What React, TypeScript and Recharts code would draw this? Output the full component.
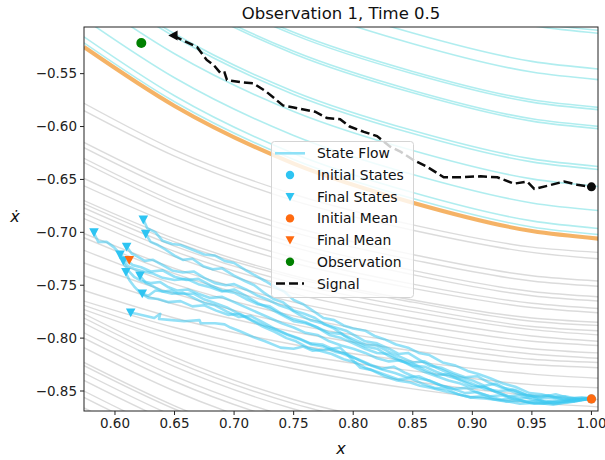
import React from 'react';
import { ComposedChart, Line, Scatter, XAxis, YAxis } from 'recharts';

const xTicks = [0.6, 0.65, 0.7, 0.75, 0.8, 0.85, 0.9, 0.95, 1.0];
const yTicks = [-0.85, -0.8, -0.75, -0.7, -0.65, -0.6, -0.55];

// sample x positions for the background flow curves
const flowX = [0.574, 0.65, 0.75, 0.85, 0.95, 1.006];

const cyanFlow = [
  [-0.3278, -0.3835, -0.438, -0.475, -0.5018, -0.509],
  [-0.3306, -0.3863, -0.4408, -0.4778, -0.5046, -0.5118],
  [-0.3644, -0.4201, -0.4746, -0.5116, -0.5384, -0.5456],
  [-0.3745, -0.4302, -0.4847, -0.5217, -0.5485, -0.5557],
  [-0.4007, -0.4564, -0.5109, -0.5479, -0.5747, -0.5819],
  [-0.4029, -0.4586, -0.5131, -0.5501, -0.5769, -0.5841],
  [-0.4187, -0.4744, -0.5289, -0.5659, -0.5927, -0.5999],
  [-0.4209, -0.4766, -0.5311, -0.5681, -0.5949, -0.6021],
  [-0.4566, -0.5123, -0.5668, -0.6038, -0.6306, -0.6378],
  [-0.4594, -0.5151, -0.5696, -0.6066, -0.6334, -0.6406],
  [-0.4755, -0.5312, -0.5857, -0.6227, -0.6495, -0.6567],
  [-0.4982, -0.5539, -0.6084, -0.6454, -0.6722, -0.6794],
  [-0.5152, -0.5709, -0.6254, -0.6624, -0.6892, -0.6964],
  [-0.5209, -0.5766, -0.6311, -0.6681, -0.6949, -0.7021],
];

const meanFlow = [-0.5248, -0.5805, -0.635, -0.672, -0.6988, -0.706];

const grayFlow = [
  [-0.578, -0.622, -0.664, -0.693, -0.714, -0.719],
  [-0.585, -0.628, -0.67, -0.698, -0.719, -0.725],
  [-0.615, -0.656, -0.695, -0.721, -0.741, -0.746],
  [-0.62, -0.661, -0.7, -0.726, -0.746, -0.751],
  [-0.63, -0.671, -0.71, -0.736, -0.756, -0.761],
  [-0.634, -0.675, -0.714, -0.74, -0.76, -0.765],
  [-0.649, -0.687, -0.724, -0.749, -0.767, -0.772],
  [-0.656, -0.693, -0.729, -0.753, -0.771, -0.776],
  [-0.67, -0.706, -0.741, -0.764, -0.781, -0.785],
  [-0.673, -0.709, -0.743, -0.766, -0.784, -0.788],
  [-0.677, -0.713, -0.748, -0.771, -0.789, -0.793],
  [-0.682, -0.718, -0.752, -0.775, -0.792, -0.797],
  [-0.687, -0.723, -0.758, -0.781, -0.798, -0.803],
  [-0.701, -0.734, -0.766, -0.787, -0.803, -0.807],
  [-0.705, -0.739, -0.771, -0.793, -0.81, -0.814],
  [-0.717, -0.749, -0.779, -0.8, -0.815, -0.819],
  [-0.729, -0.758, -0.787, -0.805, -0.82, -0.823],
  [-0.741, -0.768, -0.794, -0.812, -0.825, -0.828],
  [-0.755, -0.781, -0.806, -0.822, -0.834, -0.838],
  [-0.765, -0.79, -0.815, -0.831, -0.844, -0.847],
  [-0.769, -0.797, -0.823, -0.841, -0.854, -0.858],
  [-0.773, -0.802, -0.829, -0.848, -0.861, -0.865],
  [-0.777, -0.818, -0.858, -0.884, -0.904, -0.91],
  [-0.781, -0.822, -0.862, -0.888, -0.908, -0.913],
  [-0.786, -0.827, -0.867, -0.893, -0.913, -0.918],
  [-0.795, -0.836, -0.876, -0.903, -0.923, -0.928],
  [-0.8, -0.841, -0.881, -0.908, -0.928, -0.933],
  [-0.809, -0.85, -0.89, -0.917, -0.937, -0.942],
  [-0.823, -0.864, -0.905, -0.931, -0.951, -0.956],
  [-0.826, -0.867, -0.907, -0.934, -0.954, -0.959],
  [-0.833, -0.874, -0.914, -0.941, -0.961, -0.966],
  [-0.84, -0.881, -0.921, -0.948, -0.968, -0.973],
  [-0.85, -0.891, -0.931, -0.958, -0.978, -0.983],
  [-0.856, -0.897, -0.937, -0.964, -0.984, -0.989],
  [-0.866, -0.907, -0.947, -0.974, -0.994, -0.999],
];

const trajectories: number[][][] = [
  [[0.624,-0.688],[0.627,-0.696],[0.634,-0.7],[0.64,-0.708],[0.648,-0.711],[0.655,-0.712],[0.664,-0.716],[0.675,-0.721],[0.684,-0.722],[0.692,-0.727],[0.7,-0.729],[0.71,-0.736],[0.718,-0.741],[0.726,-0.746],[0.735,-0.752],[0.742,-0.756],[0.75,-0.764],[0.758,-0.768],[0.766,-0.774],[0.775,-0.781],[0.784,-0.783],[0.792,-0.788],[0.8,-0.791],[0.81,-0.793],[0.818,-0.798],[0.826,-0.801],[0.836,-0.806],[0.846,-0.809],[0.855,-0.814],[0.864,-0.816],[0.875,-0.823],[0.886,-0.826],[0.896,-0.831],[0.905,-0.834],[0.915,-0.838],[0.926,-0.843],[0.936,-0.846],[0.948,-0.852],[0.958,-0.853],[0.968,-0.856],[0.978,-0.855],[0.99,-0.858],[1.0,-0.857]],
  [[0.626,-0.702],[0.63,-0.709],[0.636,-0.712],[0.642,-0.716],[0.65,-0.722],[0.657,-0.726],[0.665,-0.725],[0.674,-0.732],[0.682,-0.735],[0.69,-0.734],[0.7,-0.741],[0.709,-0.746],[0.717,-0.75],[0.725,-0.757],[0.733,-0.763],[0.741,-0.766],[0.75,-0.774],[0.759,-0.777],[0.768,-0.781],[0.776,-0.787],[0.785,-0.79],[0.794,-0.793],[0.802,-0.798],[0.81,-0.803],[0.82,-0.805],[0.83,-0.81],[0.838,-0.815],[0.846,-0.814],[0.855,-0.82],[0.864,-0.826],[0.874,-0.828],[0.884,-0.833],[0.894,-0.837],[0.904,-0.836],[0.914,-0.842],[0.925,-0.847],[0.936,-0.849],[0.946,-0.854],[0.958,-0.856],[0.97,-0.853],[0.982,-0.857],[0.992,-0.856],[1.0,-0.857]],
  [[0.582,-0.7],[0.586,-0.709],[0.593,-0.709],[0.599,-0.714],[0.604,-0.72],[0.609,-0.726],[0.615,-0.731],[0.622,-0.733],[0.63,-0.737],[0.64,-0.736],[0.65,-0.742],[0.66,-0.745],[0.67,-0.744],[0.68,-0.75],[0.69,-0.755],[0.7,-0.757],[0.71,-0.763],[0.72,-0.768],[0.73,-0.77],[0.74,-0.777],[0.75,-0.782],[0.76,-0.785],[0.77,-0.79],[0.78,-0.795],[0.79,-0.796],[0.8,-0.803],[0.81,-0.808],[0.82,-0.81],[0.83,-0.817],[0.84,-0.822],[0.85,-0.824],[0.86,-0.83],[0.87,-0.835],[0.88,-0.834],[0.89,-0.84],[0.9,-0.845],[0.91,-0.846],[0.92,-0.851],[0.93,-0.855],[0.94,-0.854],[0.95,-0.858],[0.962,-0.86],[0.975,-0.858],[0.988,-0.859],[1.0,-0.857]],
  [[0.61,-0.714],[0.614,-0.72],[0.619,-0.723],[0.625,-0.727],[0.632,-0.726],[0.64,-0.731],[0.648,-0.736],[0.657,-0.738],[0.666,-0.737],[0.675,-0.743],[0.684,-0.748],[0.693,-0.75],[0.7,-0.749],[0.71,-0.754],[0.72,-0.76],[0.729,-0.764],[0.738,-0.769],[0.746,-0.772],[0.755,-0.778],[0.764,-0.783],[0.774,-0.786],[0.784,-0.791],[0.792,-0.797],[0.8,-0.801],[0.81,-0.806],[0.82,-0.807],[0.83,-0.813],[0.84,-0.818],[0.85,-0.823],[0.86,-0.822],[0.87,-0.828],[0.88,-0.833],[0.89,-0.837],[0.9,-0.84],[0.91,-0.845],[0.92,-0.843],[0.93,-0.849],[0.94,-0.853],[0.952,-0.855],[0.964,-0.854],[0.976,-0.858],[0.988,-0.857],[1.0,-0.857]],
  [[0.604,-0.721],[0.607,-0.729],[0.611,-0.736],[0.616,-0.742],[0.622,-0.746],[0.63,-0.748],[0.638,-0.747],[0.645,-0.752],[0.652,-0.755],[0.661,-0.754],[0.67,-0.758],[0.68,-0.762],[0.69,-0.761],[0.7,-0.766],[0.71,-0.771],[0.72,-0.776],[0.73,-0.781],[0.74,-0.786],[0.75,-0.79],[0.76,-0.795],[0.77,-0.797],[0.78,-0.803],[0.79,-0.807],[0.8,-0.81],[0.81,-0.814],[0.82,-0.819],[0.83,-0.822],[0.84,-0.821],[0.85,-0.827],[0.86,-0.832],[0.87,-0.836],[0.88,-0.84],[0.89,-0.843],[0.9,-0.847],[0.91,-0.846],[0.92,-0.851],[0.93,-0.855],[0.94,-0.857],[0.95,-0.856],[0.96,-0.86],[0.972,-0.861],[0.985,-0.858],[1.0,-0.857]],
  [[0.607,-0.727],[0.611,-0.732],[0.617,-0.735],[0.624,-0.737],[0.632,-0.739],[0.64,-0.743],[0.65,-0.745],[0.66,-0.744],[0.67,-0.749],[0.68,-0.752],[0.69,-0.756],[0.7,-0.754],[0.71,-0.76],[0.72,-0.767],[0.73,-0.772],[0.74,-0.778],[0.75,-0.784],[0.76,-0.786],[0.77,-0.79],[0.78,-0.797],[0.79,-0.8],[0.8,-0.805],[0.81,-0.81],[0.82,-0.814],[0.83,-0.815],[0.84,-0.821],[0.85,-0.826],[0.86,-0.827],[0.87,-0.832],[0.88,-0.836],[0.89,-0.839],[0.9,-0.843],[0.91,-0.848],[0.922,-0.85],[0.934,-0.849],[0.946,-0.854],[0.958,-0.857],[0.97,-0.856],[0.984,-0.859],[1.0,-0.857]],
  [[0.621,-0.741],[0.626,-0.748],[0.632,-0.751],[0.64,-0.756],[0.648,-0.758],[0.657,-0.757],[0.666,-0.762],[0.675,-0.767],[0.684,-0.769],[0.694,-0.775],[0.704,-0.78],[0.714,-0.779],[0.724,-0.785],[0.734,-0.791],[0.744,-0.796],[0.754,-0.8],[0.764,-0.805],[0.774,-0.806],[0.784,-0.811],[0.794,-0.816],[0.804,-0.82],[0.814,-0.825],[0.824,-0.829],[0.834,-0.827],[0.844,-0.833],[0.854,-0.838],[0.864,-0.84],[0.874,-0.845],[0.884,-0.848],[0.894,-0.852],[0.904,-0.851],[0.914,-0.855],[0.924,-0.858],[0.936,-0.857],[0.948,-0.861],[0.96,-0.862],[0.972,-0.86],[0.986,-0.86],[1.0,-0.857]],
  [[0.609,-0.738],[0.612,-0.745],[0.616,-0.751],[0.621,-0.757],[0.628,-0.762],[0.636,-0.763],[0.645,-0.766],[0.655,-0.765],[0.665,-0.77],[0.675,-0.769],[0.685,-0.774],[0.695,-0.778],[0.705,-0.777],[0.715,-0.783],[0.725,-0.788],[0.735,-0.792],[0.745,-0.797],[0.755,-0.801],[0.765,-0.806],[0.775,-0.808],[0.785,-0.813],[0.795,-0.815],[0.805,-0.821],[0.815,-0.826],[0.825,-0.83],[0.835,-0.833],[0.845,-0.837],[0.855,-0.836],[0.865,-0.841],[0.875,-0.845],[0.885,-0.848],[0.895,-0.847],[0.905,-0.852],[0.915,-0.855],[0.925,-0.854],[0.935,-0.858],[0.945,-0.86],[0.955,-0.859],[0.968,-0.862],[0.98,-0.861],[0.99,-0.859],[1.0,-0.857]],
  [[0.623,-0.758],[0.628,-0.76],[0.634,-0.755],[0.641,-0.756],[0.647,-0.755],[0.653,-0.758],[0.658,-0.758],[0.666,-0.758],[0.674,-0.763],[0.682,-0.766],[0.694,-0.771],[0.704,-0.777],[0.714,-0.783],[0.724,-0.789],[0.734,-0.794],[0.744,-0.8],[0.752,-0.803],[0.762,-0.809],[0.772,-0.812],[0.782,-0.815],[0.792,-0.82],[0.802,-0.823],[0.81,-0.828],[0.818,-0.831],[0.828,-0.835],[0.838,-0.839],[0.848,-0.838],[0.858,-0.843],[0.868,-0.847],[0.878,-0.848],[0.888,-0.853],[0.898,-0.856],[0.908,-0.855],[0.918,-0.858],[0.928,-0.86],[0.94,-0.859],[0.952,-0.862],[0.964,-0.861],[0.976,-0.86],[0.988,-0.858],[1.0,-0.857]],
  [[0.613,-0.776],[0.618,-0.777],[0.626,-0.779],[0.633,-0.781],[0.638,-0.777],[0.637,-0.782],[0.648,-0.783],[0.658,-0.784],[0.671,-0.783],[0.672,-0.786],[0.684,-0.786],[0.692,-0.787],[0.697,-0.79],[0.706,-0.794],[0.716,-0.799],[0.726,-0.803],[0.739,-0.809],[0.75,-0.81],[0.758,-0.808],[0.766,-0.812],[0.776,-0.811],[0.789,-0.809],[0.797,-0.818],[0.806,-0.828],[0.815,-0.83],[0.826,-0.836],[0.837,-0.84],[0.848,-0.842],[0.856,-0.845],[0.865,-0.847],[0.876,-0.85],[0.888,-0.853],[0.898,-0.856],[0.91,-0.857],[0.926,-0.859],[0.94,-0.862],[0.954,-0.861],[0.968,-0.863],[0.982,-0.86],[1.0,-0.857]],
];

const finalStates = [
  [0.5824, -0.7], [0.6238, -0.688], [0.6258, -0.7015], [0.6098, -0.7136], [0.6042, -0.7211],
  [0.607, -0.7268], [0.6092, -0.7375], [0.621, -0.741], [0.6229, -0.7578], [0.6132, -0.7758],
];
const initialStates = [[1.0, -0.8575]];
const initialMean = [[1.0, -0.8575]];
const finalMean = [[0.612, -0.7262]];
const observation = [[0.6221, -0.521]];

const signal = [
  [0.649,-0.514],[0.669,-0.525],[0.677,-0.537],[0.683,-0.542],[0.689,-0.55],[0.692,-0.549],[0.694,-0.556],[0.705,-0.558],[0.716,-0.559],[0.727,-0.567],[0.741,-0.58],[0.75,-0.582],[0.768,-0.586],[0.778,-0.592],[0.789,-0.593],[0.797,-0.6],[0.809,-0.605],[0.82,-0.609],[0.831,-0.619],[0.84,-0.624],[0.851,-0.632],[0.862,-0.638],[0.876,-0.648],[0.887,-0.648],[0.907,-0.647],[0.921,-0.648],[0.935,-0.654],[0.946,-0.652],[0.952,-0.659],[0.963,-0.656],[0.977,-0.652],[0.988,-0.655],[1.0,-0.657],
];

const toPts = (arr: number[][]) => arr.map(([x, y]) => ({ x, y }));
const flowPts = (ys: number[]) => ys.map((y, i) => ({ x: flowX[i], y }));

const FONT = 'DejaVu Sans, sans-serif';
const TRAJ = '#3cc8f0';
const CYAN_M = '#2ec4f2';
const ORANGE_M = '#ff6a10';

const fmt = (v: number) => v.toFixed(2).replace('-', '\u2212');

const triDown = (color: string, r: number) => (p: any) => {
  const { cx, cy } = p;
  return <path d={`M${cx - r},${cy - r * 0.85} L${cx + r},${cy - r * 0.85} L${cx},${cy + r}Z`} fill={color} />;
};
const triLeft = (color: string, r: number) => (p: any) => {
  const { cx, cy } = p;
  return <path d={`M${cx - r},${cy} L${cx + r * 0.85},${cy - r} L${cx + r * 0.85},${cy + r}Z`} fill={color} />;
};
const dot = (color: string, r: number) => (p: any) => {
  const { cx, cy } = p;
  return <circle cx={cx} cy={cy} r={r} fill={color} />;
};

const legendItems = [
  { label: 'State Flow', kind: 'line' },
  { label: 'Initial States', kind: 'dot', color: CYAN_M },
  { label: 'Final States', kind: 'tri', color: CYAN_M },
  { label: 'Initial Mean', kind: 'dot', color: ORANGE_M },
  { label: 'Final Mean', kind: 'tri', color: ORANGE_M },
  { label: 'Observation', kind: 'dot', color: '#008000' },
  { label: 'Signal', kind: 'dash' },
];

export default function App() {
  return (
    <div style={{ position: 'absolute', left: 0, top: 0, width: 605, height: 460, background: '#fff' }}>
      <ComposedChart width={605} height={460} margin={{ top: 27, right: 7, bottom: 0, left: 0 }}>
        <XAxis
          type="number"
          dataKey="x"
          domain={[0.574, 1.0055]}
          allowDataOverflow
          ticks={xTicks}
          tickFormatter={(v: number) => v.toFixed(2)}
          height={49}
          axisLine={false}
          tickSize={4}
          tickMargin={3}
          tickLine={{ stroke: '#222' }}
          tick={{ fontSize: 13.5, fill: '#222', fontFamily: FONT }}
        />
        <YAxis
          type="number"
          dataKey="y"
          domain={[-0.8689, -0.5059]}
          allowDataOverflow
          ticks={yTicks}
          tickFormatter={fmt}
          width={84}
          axisLine={false}
          tickSize={4}
          tickMargin={3}
          tickLine={{ stroke: '#222' }}
          tick={{ fontSize: 13.5, fill: '#222', fontFamily: FONT }}
        />
        {grayFlow.map((ys, i) => (
          <Line key={'g' + i} data={flowPts(ys)} dataKey="y" type="monotone" stroke="#9a9a9a" strokeOpacity={0.36}
            strokeWidth={1.4} dot={false} activeDot={false} isAnimationActive={false} legendType="none" />
        ))}
        {cyanFlow.map((ys, i) => (
          <Line key={'c' + i} data={flowPts(ys)} dataKey="y" type="monotone" stroke="#a2eaec" strokeOpacity={0.85}
            strokeWidth={1.6} dot={false} activeDot={false} isAnimationActive={false} legendType="none" />
        ))}
        <Line data={flowPts(meanFlow)} dataKey="y" type="monotone" stroke="#f4ab55" strokeOpacity={0.9}
          strokeWidth={4} dot={false} activeDot={false} isAnimationActive={false} legendType="none" />
        {trajectories.map((t, i) => (
          <Line key={'t' + i} data={toPts(t)} dataKey="y" type="linear" stroke={TRAJ} strokeOpacity={0.55}
            strokeWidth={2.6} strokeLinejoin="round" dot={false} activeDot={false} isAnimationActive={false} legendType="none" />
        ))}
        <Line data={toPts(signal)} dataKey="y" type="linear" stroke="#0b0b0b" strokeWidth={2.5}
          strokeDasharray="9 4" dot={false} activeDot={false} isAnimationActive={false} legendType="none" />
        <Scatter data={toPts([signal[0]])} shape={triLeft('#0b0b0b', 5)} isAnimationActive={false} legendType="none" />
        <Scatter data={toPts([signal[signal.length - 1]])} shape={dot('#0b0b0b', 4.5)} isAnimationActive={false} legendType="none" />
        <Scatter data={toPts(initialStates)} shape={dot(CYAN_M, 4.5)} isAnimationActive={false} legendType="none" />
        <Scatter data={toPts(finalStates)} shape={triDown(CYAN_M, 4.8)} isAnimationActive={false} legendType="none" />
        <Scatter data={toPts(initialMean)} shape={dot(ORANGE_M, 4.6)} isAnimationActive={false} legendType="none" />
        <Scatter data={toPts(finalMean)} shape={triDown(ORANGE_M, 4.8)} isAnimationActive={false} legendType="none" />
        <Scatter data={toPts(observation)} shape={dot('#008000', 5)} isAnimationActive={false} legendType="none" />
      </ComposedChart>
      <svg width={605} height={460} style={{ position: 'absolute', left: 0, top: 0, pointerEvents: 'none' }}>
        <rect x={84} y={27} width={514} height={384} fill="none" stroke="#222" strokeWidth={1} />
        <text x={341} y={19} textAnchor="middle" fontFamily={FONT} fontSize={16.5} fill="#111">Observation 1, Time 0.5</text>
        <text x={341} y={454} textAnchor="middle" fontFamily={FONT} fontSize={16} fontStyle="italic" fill="#111">x</text>
        <text x={15} y={222} textAnchor="middle" fontFamily={FONT} fontSize={16} fontStyle="italic" fill="#111">{'x\u0307'}</text>
        <g transform="translate(271,141)">
          <rect x={0.5} y={0.5} width={142} height={156} rx={3} fill="#ffffff" fillOpacity={0.8} stroke="#d4d4d4" />
          {legendItems.map((it, i) => {
            const cy = 12.3 + i * 21.7;
            return (
              <g key={it.label}>
                {it.kind === 'line' && <line x1={4} x2={34} y1={cy} y2={cy} stroke="#8fe1f7" strokeWidth={2.6} />}
                {it.kind === 'dash' && <line x1={5} x2={33} y1={cy} y2={cy} stroke="#0b0b0b" strokeWidth={2.5} strokeDasharray="9 4" />}
                {it.kind === 'dot' && <circle cx={19} cy={cy} r={4.2} fill={it.color} />}
                {it.kind === 'tri' && <path d={`M${14.5},${cy - 3.8} L${23.5},${cy - 3.8} L${19},${cy + 4.5}Z`} fill={it.color} />}
                <text x={46} y={cy + 5} fontFamily={FONT} fontSize={13.9} fill="#111">{it.label}</text>
              </g>
            );
          })}
        </g>
      </svg>
    </div>
  );
}
